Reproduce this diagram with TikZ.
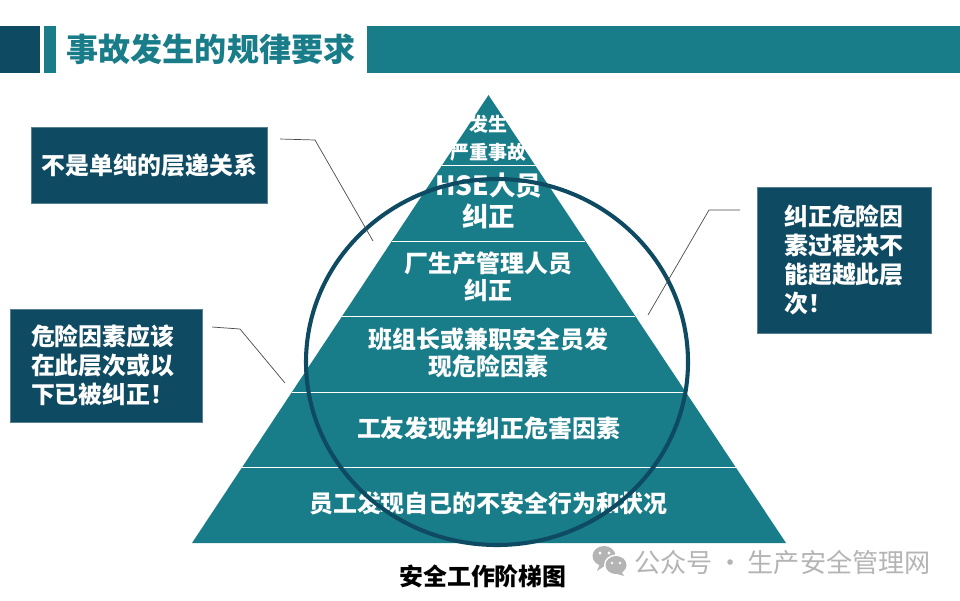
\documentclass[tikz,border=0pt]{standalone}
\usepackage{fontspec}
\setmainfont{Noto Sans CJK SC}
\usepackage{xcolor}
\definecolor{pyramidteal}{HTML}{187C89}
\definecolor{deepteal}{HTML}{0E4A61}
\definecolor{leadgray}{HTML}{4A4A4A}
\definecolor{markgray}{HTML}{B4B4B4}
\usetikzlibrary{calc,positioning,shapes.geometric}

\tikzset{
	callout/.style={fill=deepteal, draw=deepteal!70!white, line width=0.4pt, text=white, align=left, inner sep=0pt,
		font=\fontsize{17}{20.5}\selectfont\bfseries},
	tier/.style={text=white, align=center, font=\fontsize{17}{19}\selectfont\bfseries},
	leader/.style={leadgray, line width=0.5pt}
}

\begin{document}
\begin{tikzpicture}[x=0.025cm, y=-0.025cm]
	\useasboundingbox (0,0) rectangle (960,600);

	\coordinate (Apex) at (488.5,95);
	\coordinate (BaseL) at (192,543);
	\coordinate (BaseR) at (786,543);

	% Header band
	\fill[deepteal] (0,26) rectangle (40,73);
	\fill[pyramidteal] (44,26) rectangle (56,73);
	\fill[pyramidteal] (367,26) rectangle (960,73);
	\node[pyramidteal, font=\fontsize{22.8}{26}\selectfont\bfseries] (title) at (211,49) {事故发生的规律要求};

	% Pyramid and its tier rules
	\fill[pyramidteal] (Apex) -- (BaseL) -- (BaseR) -- cycle;
	\foreach \t in {0.158,0.326,0.494,0.663,0.831}
		\draw[white, line width=0.6pt] ($(Apex)!\t!(BaseL)$) -- ($(Apex)!\t!(BaseR)$);

	% Tier labels, top to bottom
	\node[tier, font=\fontsize{13.5}{20}\selectfont\bfseries] (tierA) at (488.5,138) {发生\\严重事故};
	\node[tier, font=\fontsize{18.8}{21.5}\selectfont\bfseries] (tierB) at (488.5,201) {HSE人员\\纠正};
	\node[tier] (tierC) at (488.5,277) {厂生产管理人员\\纠正};
	\node[tier] (tierD) at (488.5,353) {班组长或兼职安全员发\\现危险因素};
	\node[tier] (tierE) at (488.5,428) {工友发现并纠正危害因素};
	\node[tier] (tierF) at (488.5,503) {员工发现自己的不安全行为和状况};

	% Ring lies over the pyramid and its labels
	\draw[deepteal, line width=2.9pt] (497,362) ellipse (191 and 183);

	% Callouts
	\node[callout, minimum width=236*0.025cm, minimum height=76*0.025cm] (noteTop) at (149.5,165) {不是单纯的层递关系};
	\node[callout, minimum width=174*0.025cm, minimum height=146*0.025cm] (noteRight) at (844,260) {纠正危险因\\素过程决不\\能超越此层\\次！};
	\node[callout, inner xsep=21*0.025cm, text width=150*0.025cm, minimum height=113*0.025cm] (noteLeft) at (106,365.5) {危险因素应该\\在此层次或以\\下已被纠正！};

	% Leader lines
	\coordinate (topA) at (280,139);
	\coordinate (topB) at (315,140);
	\coordinate (topC) at (373,241);
	\draw[leader] (topA) -- (topB) -- (topC);
	\coordinate (rightA) at (740,210);
	\coordinate (rightB) at (709,210);
	\coordinate (rightC) at (648,315);
	\draw[leader] (rightA) -- (rightB) -- (rightC);
	\coordinate (leftA) at (212,327);
	\coordinate (leftB) at (240,329);
	\coordinate (leftC) at (285,383);
	\draw[leader] (leftA) -- (leftB) -- (leftC);

	% Caption and watermark
	\node[font=\fontsize{17}{20}\selectfont\bfseries] (caption) at (483,576) {安全工作阶梯图};
	\fill[markgray] (604,556) ellipse (11.5 and 10);
	\fill[markgray] (600,564) -- (597,571) -- (606,565) -- cycle;
	\fill[white] (616,565) ellipse (12 and 10.5);
	\fill[markgray] (616,565) ellipse (10.5 and 9);
	\fill[markgray] (621,571) -- (624,576) -- (614,573) -- cycle;
	\fill[white] (600,553) circle (1.6) (609,553) circle (1.6) (612,563) circle (1.3) (620,563) circle (1.3);
	\node[markgray, font=\fontsize{18.6}{22}\selectfont] (mark) at (782.5,562) {公众号\hspace{3.2pt}·\hspace{3.2pt}生产安全管理网};
\end{tikzpicture}
\end{document}
